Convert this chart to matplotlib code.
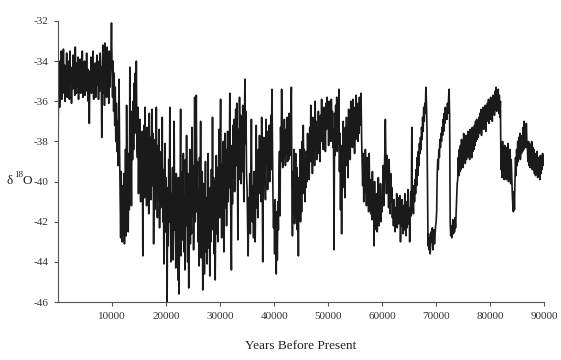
import numpy as np
import matplotlib
matplotlib.use("Agg")
import matplotlib.pyplot as plt

plt.rcParams['font.family'] = ['Liberation Serif', 'DejaVu Serif']
plt.rcParams['axes.unicode_minus'] = False

# d18O values, one every 100 years, one row per 1000 years
d18o = [
    -38.2, -35.0, -34.0, -36.3, -34.5, -35.8, -33.5, -35.9, -34.3, -35.6,
    -33.4, -35.5, -34.2, -36.0, -34.6, -35.2, -33.6, -35.8, -34.4, -35.1,
    -34.0, -35.9, -33.5, -35.0, -34.3, -36.1, -34.6, -35.4, -33.7, -35.2,
    -34.4, -35.7, -33.3, -34.9, -35.6, -34.1, -35.3, -33.8, -35.9, -34.5,
    -35.2, -33.9, -35.6, -34.3, -35.0, -33.5, -35.8, -34.6, -35.3, -34.0,
    -35.7, -34.2, -35.1, -33.6, -35.5, -34.4, -36.0, -34.8, -37.1, -34.5,
    -35.3, -33.8, -35.6, -34.5, -35.0, -33.5, -35.9, -34.3, -35.4, -34.1,
    -35.8, -34.6, -33.7, -35.2, -34.4, -35.9, -34.0, -35.5, -33.6, -35.1,
    -34.3, -37.8, -34.5, -33.2, -35.6, -34.1, -36.2, -33.1, -35.4, -34.2,
    -35.8, -33.3, -35.0, -34.0, -36.1, -33.5, -35.3, -34.4, -33.8, -32.1,
    -34.3, -35.8, -34.0, -36.5, -34.6, -37.2, -35.3, -38.0, -36.1, -38.5,
    -37.0, -39.2, -36.8, -34.9, -38.5, -40.6, -42.8, -39.5, -41.8, -43.0,
    -40.2, -42.6, -39.6, -43.1, -41.0, -38.4, -42.7, -36.2, -40.5, -39.0,
    -42.5, -38.6, -41.4, -34.3, -39.8, -37.9, -41.2, -36.5, -38.9, -36.0,
    -38.4, -35.1, -37.6, -34.6, -36.8, -34.0, -37.9, -38.8, -36.3, -40.6,
    -37.4, -39.8, -36.9, -41.0, -38.2, -40.5, -37.5, -43.7, -39.6, -37.2,
    -40.8, -36.3, -39.4, -38.0, -41.2, -37.3, -40.1, -38.6, -41.6, -36.6,
    -39.7, -37.8, -40.9, -38.3, -36.4, -40.2, -37.6, -43.1, -39.1, -41.4,
    -37.9, -40.6, -36.3, -39.5, -41.8, -38.2, -40.9, -37.4, -42.3, -39.0,
    -41.3, -38.5, -40.4, -36.8, -42.0, -39.4, -44.1, -40.7, -38.1, -42.5,
    -39.8, -41.9, -46.0, -40.3, -43.2, -38.9, -42.0, -36.3, -41.3, -44.0,
    -40.6, -42.8, -39.3, -43.9, -41.5, -37.0, -42.4, -40.1, -44.3, -39.6,
    -43.4, -41.0, -44.9, -39.8, -45.6, -42.1, -40.4, -36.4, -43.7, -41.2,
    -39.5, -42.9, -38.6, -43.5, -40.8, -44.4, -38.9, -42.2, -37.7, -41.6,
    -44.0, -39.6, -45.3, -41.3, -38.4, -43.1, -40.0, -42.6, -37.3, -41.7,
    -39.2, -43.4, -40.6, -35.8, -42.0, -38.3, -35.7, -41.5, -39.0, -43.0,
    -40.4, -44.2, -38.8, -42.5, -37.0, -43.8, -41.0, -39.5, -45.4, -42.3,
    -40.1, -44.6, -41.9, -39.0, -43.5, -40.8, -44.1, -42.0, -38.6, -43.3,
    -41.2, -44.7, -40.3, -43.0, -39.4, -42.4, -36.8, -41.6, -39.8, -43.6,
    -40.0, -44.9, -41.4, -38.7, -42.6, -39.3, -43.0, -40.5, -37.4, -41.8,
    -38.9, -35.9, -40.6, -42.8, -39.1, -41.7, -38.0, -43.5, -40.2, -37.6,
    -41.3, -38.4, -42.2, -39.6, -37.5, -41.0, -38.7, -40.3, -35.6, -39.5,
    -42.0, -44.4, -38.2, -41.1, -37.2, -39.8, -36.9, -40.5, -38.0, -36.4,
    -39.2, -36.1, -38.6, -42.9, -37.4, -39.9, -35.8, -38.3, -36.7, -40.1,
    -37.0, -39.5, -36.2, -38.8, -41.0, -37.6, -34.9, -38.1, -36.5, -39.7,
    -40.3, -42.2, -43.7, -40.8, -41.9, -39.6, -42.6, -40.4, -36.9, -41.2,
    -42.0, -40.2, -42.8, -39.5, -41.6, -43.0, -40.7, -37.2, -41.3, -39.9,
    -41.8, -38.4, -40.6, -37.7, -39.9, -38.5, -41.0, -36.8, -39.3, -44.0,
    -40.2, -37.8, -39.6, -38.3, -40.9, -36.9, -39.0, -37.5, -40.4, -38.1,
    -39.3, -37.2, -40.0, -38.6, -36.7, -39.4, -35.4, -38.2, -40.8, -42.3,
    -41.1, -43.6, -40.9, -42.8, -44.6, -41.5, -43.9, -41.0, -42.4, -39.8,
    -38.5, -41.7, -37.3, -39.0, -35.4, -38.2, -39.3, -37.5, -38.8, -36.9,
    -38.0, -39.2, -37.4, -38.6, -36.8, -39.0, -37.8, -38.9, -36.6, -37.9,
    -38.7, -37.1, -35.3, -40.2, -42.7, -39.5, -41.6, -38.4, -42.1, -40.0,
    -38.6, -41.8, -39.3, -42.4, -40.5, -43.7, -39.8, -41.2, -38.4, -42.0,
    -39.4, -41.5, -38.0, -40.6, -37.2, -39.8, -38.4, -41.0, -38.9, -40.3,
    -38.5, -40.0, -37.6, -39.4, -38.1, -39.9, -37.3, -39.0, -36.2, -38.7,
    -37.9, -39.6, -36.8, -38.5, -37.4, -39.2, -36.0, -38.2, -37.0, -38.9,
    -37.5, -38.6, -36.5, -38.1, -37.1, -39.0, -36.7, -38.0, -35.9, -37.8,
    -37.0, -38.4, -36.3, -37.7, -36.6, -38.5, -36.1, -37.4, -35.8, -37.2,
    -36.4, -38.2, -36.0, -37.6, -36.8, -38.0, -35.9, -37.3, -36.5, -38.3,
    -37.4, -43.4, -36.6, -38.7, -36.2, -37.9, -35.8, -38.5, -36.9, -38.1,
    -35.4, -39.5, -37.6, -41.4, -38.2, -42.6, -38.9, -40.3, -37.0, -39.6,
    -38.4, -40.8, -37.3, -39.2, -36.8, -38.5, -37.6, -39.8, -36.4, -38.1,
    -37.2, -38.9, -36.0, -37.8, -36.6, -38.3, -35.9, -37.5, -36.8, -38.6,
    -36.3, -37.9, -35.7, -37.4, -36.6, -38.0, -36.1, -37.6, -35.8, -37.2,
    -36.4, -35.6, -37.8, -38.9, -40.2, -38.6, -41.0, -39.2, -40.5, -38.4,
    -39.6, -41.2, -38.8, -40.6, -39.3, -41.5, -38.6, -40.8, -39.9, -41.6,
    -40.2, -41.9, -39.5, -41.3, -40.4, -43.2, -40.0, -42.1, -40.8, -42.4,
    -40.6, -42.5, -41.0, -39.8, -42.2, -40.4, -41.7, -40.1, -42.0, -40.9,
    -41.5, -40.3, -39.2, -41.2, -40.0, -38.4, -36.9, -39.0, -40.6, -38.7,
    -40.2, -39.1, -41.3, -38.9, -40.7, -41.6, -39.6, -41.0, -40.3, -41.8,
    -41.1, -42.2, -40.9, -41.7, -42.5, -41.3, -42.0, -40.6, -42.3, -41.5,
    -40.8, -42.1, -41.4, -40.7, -43.0, -41.6, -42.2, -40.9, -41.8, -42.6,
    -41.2, -42.4, -40.6, -41.9, -42.7, -41.0, -42.3, -41.5, -40.4, -42.1,
    -41.3, -43.0, -41.8, -40.5, -41.7, -37.3, -41.2, -40.8, -41.6, -40.2,
    -41.0, -39.9, -40.6, -39.4, -40.2, -38.8, -39.7, -38.5, -39.2, -38.1,
    -38.6, -37.8, -38.4, -37.3, -37.9, -36.8, -37.5, -36.3, -37.0, -36.1,
    -36.6, -35.3, -36.0, -37.2, -40.5, -43.2, -42.6, -43.4, -42.8, -43.6,
    -43.1, -42.5, -43.0, -42.3, -43.4, -42.7, -42.4, -43.1, -42.6, -42.2,
    -42.0, -41.5, -39.6, -38.9, -39.4, -38.4, -38.8, -37.9, -38.3, -37.6,
    -38.0, -37.3, -37.7, -36.9, -37.5, -36.6, -37.1, -36.3, -36.8, -36.4,
    -36.9, -36.1, -36.6, -35.9, -35.4, -36.8, -42.0, -42.7, -42.2, -42.8,
    -42.4, -41.9, -42.6, -42.0, -42.5, -41.8, -42.3, -41.6, -41.0, -40.1,
    -39.9, -38.8, -39.7, -38.4, -39.5, -38.2, -39.4, -37.9, -39.2, -38.1,
    -39.3, -37.6, -39.0, -38.0, -39.1, -37.7, -38.9, -37.9, -38.8, -37.5,
    -38.7, -37.8, -38.9, -37.4, -38.6, -37.6, -38.8, -37.3, -38.5, -37.7,
    -38.4, -37.2, -38.2, -37.0, -38.0, -36.9, -37.9, -37.1, -37.8, -36.8,
    -37.6, -36.6, -37.5, -36.4, -37.7, -36.5, -37.3, -36.3, -37.4, -36.6,
    -37.2, -36.2, -37.5, -36.4, -37.0, -36.1, -36.9, -35.9, -37.1, -36.3,
    -36.9, -35.8, -36.8, -36.0, -37.0, -35.7, -36.6, -35.9, -36.7, -35.5,
    -36.4, -35.3, -36.5, -35.6, -36.3, -35.4, -36.6, -35.7, -36.8, -36.0,
    -39.4, -38.1, -39.8, -38.0, -39.5, -38.3, -39.9, -38.2, -39.6, -38.5,
    -39.9, -38.3, -39.7, -38.1, -40.0, -38.6, -39.6, -38.4, -40.1, -38.9,
    -39.8, -40.6, -41.2, -41.5, -40.5, -41.4, -39.9, -38.8, -39.7, -38.4,
    -39.2, -38.0, -39.0, -37.8, -38.7, -37.6, -38.9, -37.7, -38.6, -37.9,
    -38.5, -37.3, -38.4, -37.0, -38.2, -37.4, -38.3, -37.1, -38.0, -38.4,
    -39.0, -38.0, -39.2, -38.1, -39.3, -38.2, -39.0, -38.0, -39.4, -38.3,
    -39.4, -38.4, -39.6, -38.6, -39.7, -38.7, -39.5, -38.5, -39.8, -38.8,
    -39.5, -38.8, -39.9, -38.7, -39.6, -38.9, -39.4, -38.6, -39.2, -38.7,
    -38.8,
]
years = np.arange(len(d18o)) * 100

fig = plt.figure(figsize=(5.61, 3.6), dpi=100)
ax = fig.add_axes([0.1034, 0.161, 0.8666, 0.7807])
ax.plot(years, d18o, color='#1a1a1a', lw=1.2)

ax.set_xlim(0, 90000)
ax.set_ylim(-46, -32)
ax.set_xticks(np.arange(10000, 90001, 10000))
ax.set_yticks(np.arange(-46, -31, 2))
ax.spines['top'].set_visible(False)
ax.spines['right'].set_visible(False)
for s in ['left', 'bottom']:
    ax.spines[s].set_color('#555555')
    ax.spines[s].set_linewidth(0.8)
ax.tick_params(length=3, width=0.8, color='#555555', labelsize=8,
               labelcolor='#333333', pad=4)

ax.set_xlabel('Years Before Present', fontsize=9.5, color='#222222', labelpad=14)

# y label: delta 18 O, built from plain text pieces
fig.text(0.012, 0.497, 'δ', fontsize=9.5, color='#222222', va='center', ha='left')
fig.text(0.025, 0.515, '18', fontsize=6.5, color='#222222', va='center', ha='left')
fig.text(0.040, 0.497, 'O', fontsize=9.5, color='#222222', va='center', ha='left')

plt.savefig('out.png', dpi=100)
